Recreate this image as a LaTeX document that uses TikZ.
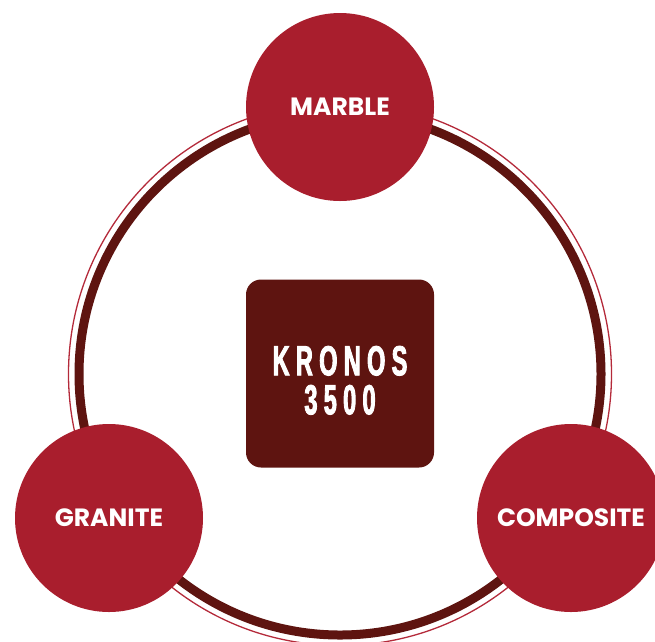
\documentclass[tikz,border=0pt]{standalone}
\usepackage{fontspec}
\usepackage{xcolor}
\usetikzlibrary{positioning}
\newfontfamily\stonefont{Poppins}
\newfontfamily\kronosfont[FakeStretch=0.56,LetterSpace=15,FakeBold=2]{Liberation Sans Bold}
\definecolor{KRcrimson}{HTML}{A91E2D}
\definecolor{KRmaroon}{HTML}{5E1410}
\definecolor{KRthin}{HTML}{B42A3A}

\begin{document}
\begin{tikzpicture}[x=1pt,y=-1pt,
  stone/.style={circle,fill=KRcrimson,minimum size=188pt,inner sep=0pt,text=white,font=\stonefont\bfseries\fontsize{25}{29}\selectfont},
  core/.style={rectangle,rounded corners=15pt,fill=KRmaroon,minimum size=188pt,inner sep=0pt,text=white,align=center,text height=82pt,font=\kronosfont\fontsize{42}{39}\selectfont},
  rim/.style={draw=KRthin,line width=1.3pt},
  band/.style={draw=KRmaroon,line width=9pt}]
\useasboundingbox (0,0) rectangle (655,641);
% ring
\coordinate (hub) at (340,374);
\draw[rim] (hub) circle[radius=271.5];
\draw[band] (hub) circle[radius=261];
% stones
\node[stone] (marble) at (340,107) {MARBLE};
\node[stone] (granite) at (109,518) {GRANITE};
\node[stone] (composite) at (571,518) {COMPOSITE};
% center
\node[core] (kronos) at (340,373.5) {KRONOS\\3500};
\end{tikzpicture}
\end{document}
